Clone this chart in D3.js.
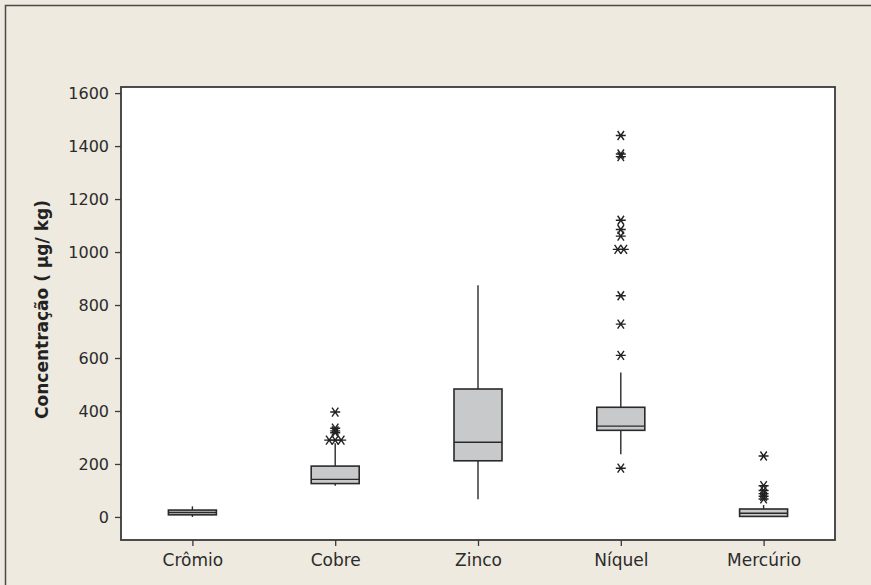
<!DOCTYPE html>
<html>
<head>
<meta charset="utf-8">
<script src="https://cdn.jsdelivr.net/npm/d3@7"></script>
<style>
  html, body { margin: 0; padding: 0; background: #EEEAE0; }
  svg { display: block; }
</style>
</head>
<body>
<svg id="chart" width="871" height="585"></svg>
<script>
// ---- data ----
const categories = ["Crômio", "Cobre", "Zinco", "Níquel", "Mercúrio"];
const whiskerLow  = [0,   118, 67,  237, 0];
const q1          = [8,   126, 212, 327, 2];
const median      = [17,  142, 282, 343, 14];
const q3          = [26,  192, 483, 414, 30];
const whiskerHigh = [40,  278, 875, 545, 45];
const outliers = [
  [],
  [396, 335, 325, 318, 290, 290, 290],
  [],
  [1440, 1370, 1360, 1120, 1085, 1060, 1010, 1010, 835, 728, 610, 184],
  [230, 118, 100, 88, 78, 68]
];
const yTicks = [0, 200, 400, 600, 800, 1000, 1200, 1400, 1600];
const yTitle = "Concentração ( µg/ kg)";

// ---- layout ----
const svg = d3.select("#chart");
const plot = { left: 121, top: 87, right: 835, bottom: 540 };

// outer frame
svg.append("rect").attr("x", 5.5).attr("y", 5.5).attr("width", 900).attr("height", 600)
  .attr("fill", "#EEEAE0").attr("stroke", "#4a4a4a").attr("stroke-width", 1.5);

const x = d3.scalePoint().domain(categories).range([plot.left, plot.right]).padding(0.5);
const y = d3.scaleLinear().domain([-87, 1623]).range([plot.bottom, plot.top]);

// plot area
svg.append("rect").attr("x", plot.left).attr("y", plot.top)
  .attr("width", plot.right - plot.left).attr("height", plot.bottom - plot.top)
  .attr("fill", "#ffffff").attr("stroke", "#3a3a3a").attr("stroke-width", 1.8);

// axes
const yAxis = svg.append("g").attr("transform", `translate(${plot.left},0)`)
  .call(d3.axisLeft(y).tickValues(yTicks).tickSize(6).tickPadding(6).tickFormat(d3.format("d")));
yAxis.select(".domain").remove();
yAxis.selectAll("line").attr("stroke", "#3a3a3a").attr("stroke-width", 1.3);
yAxis.selectAll("text").attr("fill", "#2b2b2b")
  .style("font-family", "'DejaVu Sans', sans-serif").style("font-size", "16px");

const xAxis = svg.append("g").attr("transform", `translate(0,${plot.bottom})`)
  .call(d3.axisBottom(x).tickSize(6).tickPadding(8));
xAxis.select(".domain").remove();
xAxis.selectAll("line").attr("stroke", "#3a3a3a").attr("stroke-width", 1.3);
xAxis.selectAll("text").attr("fill", "#2b2b2b")
  .style("font-family", "'DejaVu Sans', sans-serif").style("font-size", "17px");

// y title
svg.append("text")
  .attr("transform", `translate(42,${(plot.top + plot.bottom) / 2 - 4}) rotate(-90)`)
  .attr("text-anchor", "middle").attr("dominant-baseline", "central")
  .style("font-family", "'DejaVu Sans', sans-serif").style("font-size", "17px")
  .style("font-weight", "bold").attr("fill", "#222")
  .text(yTitle);

// boxes
const boxW = 48;
const g = svg.append("g");
categories.forEach((c, i) => {
  const cx = x(c);
  // whiskers
  g.append("line").attr("x1", cx).attr("x2", cx).attr("y1", y(q3[i])).attr("y2", y(whiskerHigh[i]))
    .attr("stroke", "#2a2a2a").attr("stroke-width", 1.4);
  g.append("line").attr("x1", cx).attr("x2", cx).attr("y1", y(q1[i])).attr("y2", y(whiskerLow[i]))
    .attr("stroke", "#2a2a2a").attr("stroke-width", 1.4);
  // box
  g.append("rect").attr("x", cx - boxW / 2).attr("y", y(q3[i]))
    .attr("width", boxW).attr("height", Math.max(1, y(q1[i]) - y(q3[i])))
    .attr("fill", "#C8C9CB").attr("stroke", "#2a2a2a").attr("stroke-width", 1.6);
  // median
  g.append("line").attr("x1", cx - boxW / 2).attr("x2", cx + boxW / 2)
    .attr("y1", y(median[i])).attr("y2", y(median[i]))
    .attr("stroke", "#2a2a2a").attr("stroke-width", 1.4);
  // outliers: equal values placed side by side
  const counts = d3.rollup(outliers[i], v => v.length, d => d);
  const seen = new Map();
  outliers[i].forEach(v => {
    const n = counts.get(v);
    const k = seen.get(v) || 0;
    seen.set(v, k + 1);
    const dx = (k - (n - 1) / 2) * 6;
    g.append("path")
      .attr("transform", `translate(${cx + dx},${y(v)})`)
      .attr("d", "M-5,0L5,0M-3.2,-4.5L3.2,4.5M-3.2,4.5L3.2,-4.5")
      .attr("fill", "none").attr("stroke", "#222").attr("stroke-width", 1.4);
  });
});
</script>
</body>
</html>
